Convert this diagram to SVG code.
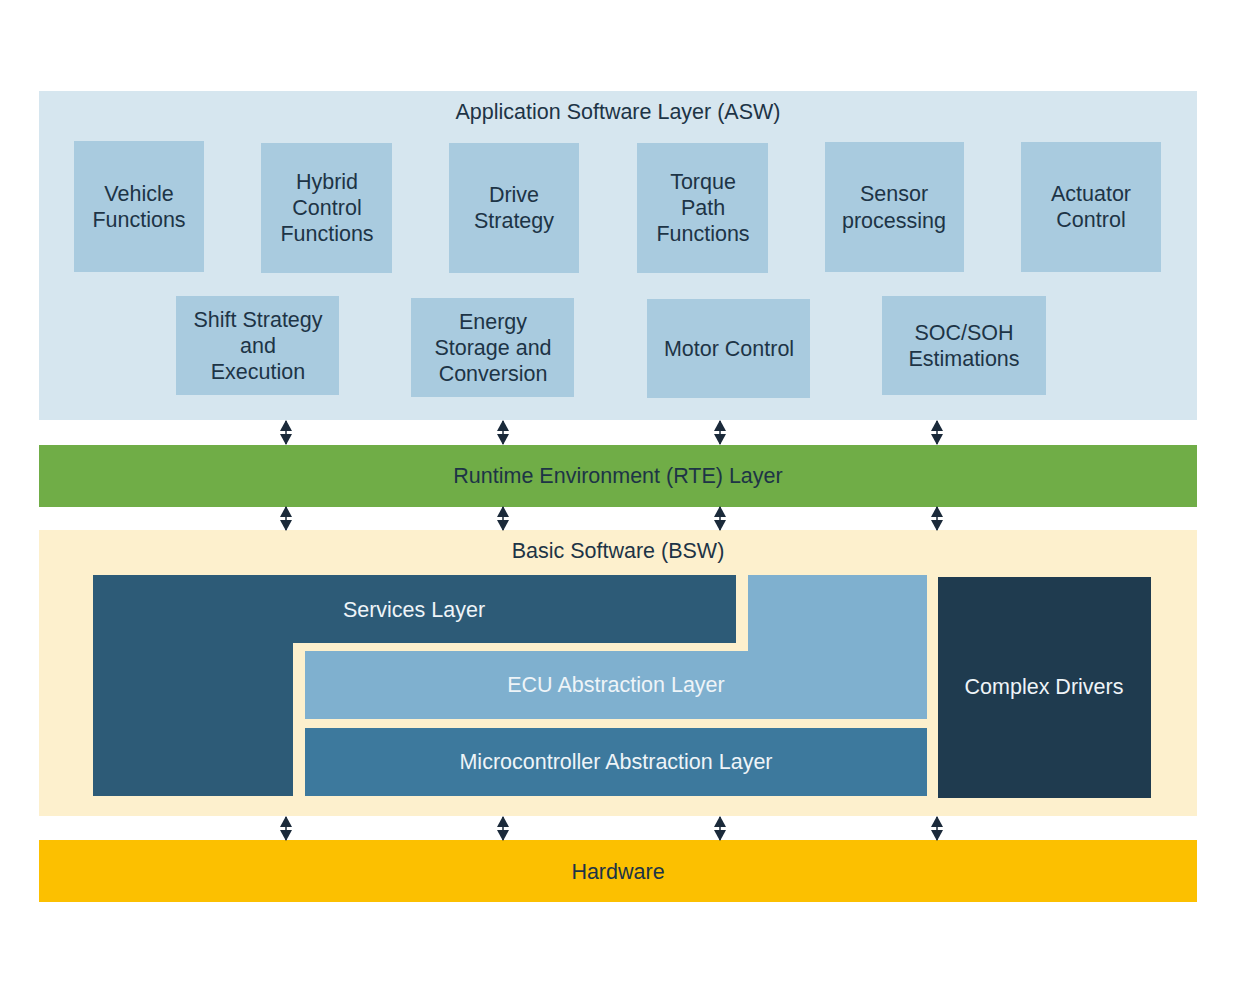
<svg xmlns="http://www.w3.org/2000/svg" width="1238" height="994" viewBox="0 0 1238 994">
<defs>
<style>
text{font-family:"Liberation Sans",Arial,sans-serif;font-size:21.5px;text-anchor:middle}
.dk{fill:#1d3446}
.lt{fill:#eef4f8}
.box{fill:#a9cbdf}
.arr{stroke:#1b2a3a;stroke-width:1.5;marker-start:url(#ah);marker-end:url(#ah)}
</style>
<marker id="ah" viewBox="0 0 11 12" refX="10" refY="6" markerWidth="11" markerHeight="12" markerUnits="userSpaceOnUse" orient="auto-start-reverse">
<path d="M0,0 L11,6 L0,12 z" fill="#1b2a3a"/>
</marker>
</defs>
<rect width="1238" height="994" fill="#ffffff"/>
<g id="asw">
<rect x="39" y="91" width="1158" height="329" fill="#d6e6ef"/>
<text class="dk" x="618" y="119">Application Software Layer (ASW)</text>
</g>
<g id="vehicle"><rect class="box" x="74" y="141" width="130" height="131"/><text class="dk" x="139" y="201">Vehicle</text><text class="dk" x="139" y="227">Functions</text></g>
<g id="hybrid"><rect class="box" x="261" y="143" width="131" height="130"/><text class="dk" x="327" y="189">Hybrid</text><text class="dk" x="327" y="215">Control</text><text class="dk" x="327" y="241">Functions</text></g>
<g id="drive"><rect class="box" x="449" y="143" width="130" height="130"/><text class="dk" x="514" y="202">Drive</text><text class="dk" x="514" y="228">Strategy</text></g>
<g id="torque"><rect class="box" x="637" y="143" width="131" height="130"/><text class="dk" x="703" y="189">Torque</text><text class="dk" x="703" y="215">Path</text><text class="dk" x="703" y="241">Functions</text></g>
<g id="sensor"><rect class="box" x="825" y="142" width="139" height="130"/><text class="dk" x="894" y="201">Sensor</text><text class="dk" x="894" y="228">processing</text></g>
<g id="actuator"><rect class="box" x="1021" y="142" width="140" height="130"/><text class="dk" x="1091" y="201">Actuator</text><text class="dk" x="1091" y="227">Control</text></g>
<g id="shift"><rect class="box" x="176" y="296" width="163" height="99"/><text class="dk" x="258" y="327">Shift Strategy</text><text class="dk" x="258" y="353">and</text><text class="dk" x="258" y="379">Execution</text></g>
<g id="energy"><rect class="box" x="411" y="298" width="163" height="99"/><text class="dk" x="493" y="329">Energy</text><text class="dk" x="493" y="355">Storage and</text><text class="dk" x="493" y="381">Conversion</text></g>
<g id="motor"><rect class="box" x="647" y="299" width="163" height="99"/><text class="dk" x="729" y="356">Motor Control</text></g>
<g id="soc"><rect class="box" x="882" y="296" width="164" height="99"/><text class="dk" x="964" y="340">SOC/SOH</text><text class="dk" x="964" y="366">Estimations</text></g>
<g id="rte"><rect x="39" y="445" width="1158" height="62" fill="#70ad47"/><text class="dk" x="618" y="483">Runtime Environment (RTE) Layer</text></g>
<g id="bsw"><rect x="39" y="530" width="1158" height="286" fill="#fdf0cd"/><text class="dk" x="618" y="558">Basic Software (BSW)</text></g>
<g id="services"><path d="M93,575 H736 V643 H293 V796 H93 Z" fill="#2d5b77"/><text class="lt" x="414" y="617">Services Layer</text></g>
<g id="ecu"><path d="M748,575 H927 V719 H305 V651 H748 Z" fill="#7fb0cf"/><text class="lt" x="616" y="692">ECU Abstraction Layer</text></g>
<g id="mcal"><rect x="305" y="728" width="622" height="68" fill="#3d799d"/><text class="lt" x="616" y="769">Microcontroller Abstraction Layer</text></g>
<g id="complex"><rect x="938" y="577" width="213" height="221" fill="#1f3b4f"/><text class="lt" x="1044" y="694">Complex Drivers</text></g>
<g id="hardware"><rect x="39" y="840" width="1158" height="62" fill="#fcc000"/><text class="dk" x="618" y="879">Hardware</text></g>
<g id="connectors">
<line class="arr" x1="286" y1="421" x2="286" y2="444"/>
<line class="arr" x1="503" y1="421" x2="503" y2="444"/>
<line class="arr" x1="720" y1="421" x2="720" y2="444"/>
<line class="arr" x1="937" y1="421" x2="937" y2="444"/>
<line class="arr" x1="286" y1="507" x2="286" y2="530"/>
<line class="arr" x1="503" y1="507" x2="503" y2="530"/>
<line class="arr" x1="720" y1="507" x2="720" y2="530"/>
<line class="arr" x1="937" y1="507" x2="937" y2="530"/>
<line class="arr" x1="286" y1="817" x2="286" y2="840"/>
<line class="arr" x1="503" y1="817" x2="503" y2="840"/>
<line class="arr" x1="720" y1="817" x2="720" y2="840"/>
<line class="arr" x1="937" y1="817" x2="937" y2="840"/>
</g>
</svg>
